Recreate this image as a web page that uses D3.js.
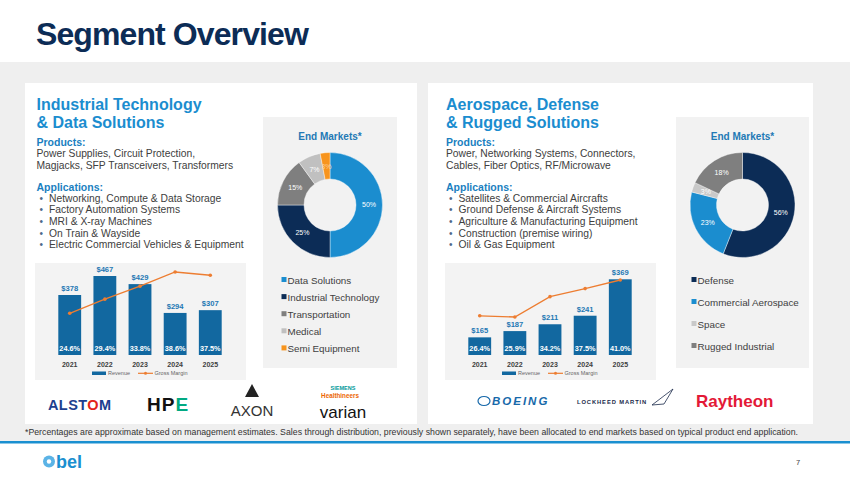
<!DOCTYPE html>
<html>
<head>
<meta charset="utf-8">
<script src="https://cdn.jsdelivr.net/npm/d3@7"></script>
<style>
  body { margin: 0; background: #fff; }
  svg { display: block; font-family: "Liberation Sans", Arial, sans-serif; }
</style>
</head>
<body>
<script>
const width = 850;
const height = 480;

// data
const years = ['2021', '2022', '2023', '2024', '2025'];
const itdsRevenue = [378, 467, 429, 294, 307];
const itdsMargin = [24.6, 29.4, 33.8, 38.6, 37.5];
const adrsRevenue = [165, 187, 211, 241, 369];
const adrsMargin = [26.4, 25.9, 34.2, 37.5, 41.0];

const itdsMarkets = ['Data Solutions', 'Industrial Technology', 'Transportation', 'Medical', 'Semi Equipment'];
const itdsShares = [50, 25, 15, 7, 3];
const adrsMarkets = ['Defense', 'Commercial Aerospace', 'Space', 'Rugged Industrial'];
const adrsShares = [56, 23, 3, 18];

const itdsProducts = ['Power Supplies, Circuit Protection,', 'Magjacks, SFP Transceivers, Transformers'];
const itdsApps = ['Networking, Compute & Data Storage', 'Factory Automation Systems', 'MRI & X-ray Machines',
  'On Train & Wayside', 'Electric Commercial Vehicles & Equipment'];
const adrsProducts = ['Power, Networking Systems, Connectors,', 'Cables, Fiber Optics, RF/Microwave'];
const adrsApps = ['Satellites & Commercial Aircrafts', 'Ground Defense & Aircraft Systems',
  'Agriculture & Manufacturing Equipment', 'Construction (premise wiring)', 'Oil & Gas Equipment'];

const navy = '#0c2c56';
const sky = '#1b8dcf';
const barBlue = '#1268a0';
const orange = '#ed7d31';
const itdsColors = [sky, navy, '#7f7f7f', '#c0c0c0', '#f7941d'];
const adrsColors = [navy, sky, '#c9c9c9', '#7f7f7f'];

const svg = d3.select('body').append('svg')
  .attr('width', width)
  .attr('height', height);

// page background
svg.append('rect').attr('width', width).attr('height', height).attr('fill', '#fff');
svg.append('rect').attr('y', 62).attr('width', width).attr('height', 379).attr('fill', '#efefef');
svg.append('rect').attr('y', 441).attr('width', width).attr('height', 2.5).attr('fill', '#1a8fd0');

svg.append('text')
  .attr('x', 36).attr('y', 45)
  .attr('font-size', 32).attr('font-weight', 'bold')
  .attr('letter-spacing', -0.9)
  .attr('fill', navy)
  .text('Segment Overview');

// white panels
svg.append('rect').attr('x', 25).attr('y', 83).attr('width', 392).attr('height', 341).attr('fill', '#fff');
svg.append('rect').attr('x', 428).attr('y', 83).attr('width', 385).attr('height', 341).attr('fill', '#fff');

function textBlock(x, title, products, apps) {
  const g = svg.append('g').attr('transform', `translate(${x},0)`);
  title.forEach((t, i) => {
    g.append('text').attr('x', 0).attr('y', 109.5 + i * 18.2)
      .attr('font-size', 16).attr('font-weight', 'bold').attr('fill', sky).text(t);
  });
  g.append('text').attr('y', 145.5).attr('font-size', 10.5).attr('font-weight', 'bold')
    .attr('fill', '#1a7fbf').text('Products:');
  products.forEach((t, i) => {
    g.append('text').attr('y', 157.3 + i * 11.6).attr('font-size', 10.3).attr('fill', '#404040').text(t);
  });
  g.append('text').attr('y', 190.5).attr('font-size', 10.5).attr('font-weight', 'bold')
    .attr('fill', '#1a7fbf').text('Applications:');
  apps.forEach((t, i) => {
    const y = 201.6 + i * 11.65;
    g.append('text').attr('x', 3).attr('y', y).attr('font-size', 10).attr('fill', '#4d6a8a').text('•');
    g.append('text').attr('x', 12.5).attr('y', y).attr('font-size', 10.3).attr('fill', '#404040').text(t);
  });
}

textBlock(36.5, ['Industrial Technology', '& Data Solutions'], itdsProducts, itdsApps);
textBlock(446, ['Aerospace, Defense', '& Rugged Solutions'], adrsProducts, adrsApps);

function barChart(x0, revenue, margin, revFloor, revTop, marginDomain, marginRange) {
  const g = svg.append('g').attr('transform', `translate(${x0},263)`);
  g.append('rect').attr('width', 211).attr('height', 117).attr('fill', '#f3f3f3');

  const x = d3.scaleBand().domain(years).range([11, 199]).padding(0.35);
  const y = d3.scaleLinear().domain([revFloor, d3.max(revenue)]).range([92, revTop]);
  const ym = d3.scaleLinear().domain(marginDomain).range(marginRange);

  const data = years.map((yr, i) => ({ yr, rev: revenue[i], gm: margin[i] }));

  g.selectAll('.bar').data(data).enter().append('rect')
    .attr('class', 'bar')
    .attr('x', d => x(d.yr))
    .attr('y', d => y(d.rev))
    .attr('width', x.bandwidth())
    .attr('height', d => y(revFloor) - y(d.rev))
    .attr('fill', barBlue);

  g.selectAll('.rev').data(data).enter().append('text')
    .attr('x', d => x(d.yr) + x.bandwidth() / 2)
    .attr('y', d => y(d.rev) - 4)
    .attr('text-anchor', 'middle')
    .attr('font-size', 7.6).attr('font-weight', 'bold').attr('fill', '#1f78b4')
    .text(d => '$' + d.rev);

  g.selectAll('.pct').data(data).enter().append('text')
    .attr('x', d => x(d.yr) + x.bandwidth() / 2)
    .attr('y', 87.5)
    .attr('text-anchor', 'middle')
    .attr('font-size', 7.3).attr('font-weight', 'bold').attr('fill', '#fff')
    .text(d => d.gm.toFixed(1) + '%');

  const line = d3.line().x(d => x(d.yr) + x.bandwidth() / 2).y(d => ym(d.gm));
  g.append('path').datum(data).attr('d', line)
    .attr('fill', 'none').attr('stroke', orange).attr('stroke-width', 1.3);
  g.selectAll('.dot').data(data).enter().append('circle')
    .attr('cx', d => x(d.yr) + x.bandwidth() / 2)
    .attr('cy', d => ym(d.gm))
    .attr('r', 1.8).attr('fill', orange);

  g.selectAll('.yr').data(years).enter().append('text')
    .attr('x', d => x(d) + x.bandwidth() / 2)
    .attr('y', 103.5)
    .attr('text-anchor', 'middle')
    .attr('font-size', 7).attr('font-weight', 'bold').attr('fill', '#404040')
    .text(d => d);

  // legend
  g.append('rect').attr('x', 57).attr('y', 108.5).attr('width', 14).attr('height', 3.5).attr('fill', barBlue);
  g.append('text').attr('x', 73).attr('y', 112).attr('font-size', 5.5).attr('fill', '#666').text('Revenue');
  g.append('line').attr('x1', 103).attr('x2', 118).attr('y1', 110.3).attr('y2', 110.3)
    .attr('stroke', orange).attr('stroke-width', 1.2);
  g.append('circle').attr('cx', 110.5).attr('cy', 110.3).attr('r', 1.5).attr('fill', orange);
  g.append('text').attr('x', 119.5).attr('y', 112).attr('font-size', 5.5).attr('fill', '#666').text('Gross Margin');
}

barChart(35, itdsRevenue, itdsMargin, 97, 13, [24.6, 38.6], [50.3, 9]);
barChart(445, adrsRevenue, adrsMargin, 103, 16.3, [25.9, 41.0], [54, 17]);

function donut(bx, bw, names, shares, colors, legendStep, legendX) {
  const g = svg.append('g').attr('transform', `translate(${bx},117)`);
  g.append('rect').attr('width', bw).attr('height', 251).attr('fill', '#f2f2f2');
  const cx = bw / 2;
  g.append('text').attr('x', cx).attr('y', 23)
    .attr('text-anchor', 'middle').attr('font-size', 10).attr('font-weight', 'bold')
    .attr('fill', '#2379b5').text('End Markets*');

  const pie = d3.pie().sort(null).value(d => d);
  const arc = d3.arc().innerRadius(26).outerRadius(52.5);
  const labelArc = d3.arc().innerRadius(39).outerRadius(39);
  const arcs = pie(shares);
  const pg = g.append('g').attr('transform', `translate(${cx},88)`);
  pg.selectAll('path').data(arcs).enter().append('path')
    .attr('d', arc)
    .attr('fill', (d, i) => colors[i])
    .attr('stroke', '#fff').attr('stroke-width', 0.4);
  pg.selectAll('text').data(arcs).enter().append('text')
    .attr('transform', d => `translate(${labelArc.centroid(d)})`)
    .attr('dy', '0.35em')
    .attr('text-anchor', 'middle')
    .attr('font-size', 7).attr('fill', (d, i) => colors[i] === '#f7941d' ? '#fbd2a0' : '#fff')
    .text(d => d.data + '%');

  names.forEach((n, i) => {
    const y = 163 + i * legendStep;
    g.append('rect').attr('x', legendX).attr('y', y - 3).attr('width', 5).attr('height', 5).attr('fill', colors[i]);
    g.append('text').attr('x', legendX + 6).attr('y', y + 3.5)
      .attr('font-size', 9.8).attr('fill', '#404040').text(n);
  });
}

donut(263, 134, itdsMarkets, itdsShares, itdsColors, 17.1, 18.5);
donut(676, 133, adrsMarkets, adrsShares, adrsColors, 22, 15.5);

// customer logos (typeset)
const logos = svg.append('g');
const alstom = logos.append('text').attr('x', 48).attr('y', 410)
  .attr('font-size', 14.5).attr('font-weight', 'bold').attr('fill', '#1d3f8f').attr('letter-spacing', 0.4);
alstom.append('tspan').text('ALST');
alstom.append('tspan').attr('fill', '#e2231a').text('O');
alstom.append('tspan').text('M');
const hpe = logos.append('text').attr('x', 147).attr('y', 411)
  .attr('font-size', 19).attr('font-weight', 'bold').attr('fill', '#111').attr('letter-spacing', 1);
hpe.append('tspan').text('HP');
hpe.append('tspan').attr('fill', '#01a982').text('E');
logos.append('path').attr('d', 'M252,384 L259,397 L245,397 Z').attr('fill', '#222');
logos.append('text').attr('x', 252).attr('y', 416).attr('text-anchor', 'middle')
  .attr('font-size', 15).attr('fill', '#333').text('AXON');
logos.append('text').attr('x', 343).attr('y', 390).attr('text-anchor', 'middle')
  .attr('font-size', 5.5).attr('font-weight', 'bold').attr('fill', '#009999').text('SIEMENS');
logos.append('text').attr('x', 340).attr('y', 397.5).attr('text-anchor', 'middle')
  .attr('font-size', 6.3).attr('font-weight', 'bold').attr('fill', '#ec6602').text('Healthineers');
logos.append('text').attr('x', 343).attr('y', 418).attr('text-anchor', 'middle')
  .attr('font-size', 17).attr('fill', '#111').text('varian');

logos.append('ellipse').attr('cx', 484).attr('cy', 401).attr('rx', 6).attr('ry', 4.5)
  .attr('fill', 'none').attr('stroke', '#1769aa').attr('stroke-width', 1.2);
logos.append('text').attr('x', 492).attr('y', 405)
  .attr('font-size', 11.5).attr('font-weight', 'bold').attr('font-style', 'italic')
  .attr('letter-spacing', 2).attr('fill', '#1769aa').text('BOEING');
logos.append('text').attr('x', 577).attr('y', 404)
  .attr('font-size', 5.8).attr('font-weight', 'bold').attr('letter-spacing', 0.9)
  .attr('fill', '#1b2a4a').text('LOCKHEED MARTIN');
logos.append('path').attr('d', 'M673,389 L664,404 L652,405 Z').attr('fill', 'none')
  .attr('stroke', '#1b2a4a').attr('stroke-width', 0.8);
logos.append('text').attr('x', 696).attr('y', 406.5)
  .attr('font-size', 17).attr('font-weight', 'bold').attr('fill', '#e31937').text('Raytheon');

svg.append('text').attr('x', 25).attr('y', 434.5)
  .attr('font-size', 8.2).attr('fill', '#333')
  .attr('textLength', 773).attr('lengthAdjust', 'spacingAndGlyphs')
  .text('*Percentages are approximate based on management estimates. Sales through distribution, previously shown separately, have been allocated to end markets based on typical product end application.');

// footer
svg.append('circle').attr('cx', 49).attr('cy', 461.5).attr('r', 6).attr('fill', '#5bb3e6');
svg.append('circle').attr('cx', 49).attr('cy', 461.5).attr('r', 2.2).attr('fill', '#fff');
svg.append('text').attr('x', 56).attr('y', 468)
  .attr('font-size', 18).attr('font-weight', 'bold').attr('fill', '#1a8fd0').text('bel');
svg.append('text').attr('x', 796).attr('y', 465)
  .attr('font-size', 7.5).attr('fill', '#444').text('7');
</script>
</body>
</html>
